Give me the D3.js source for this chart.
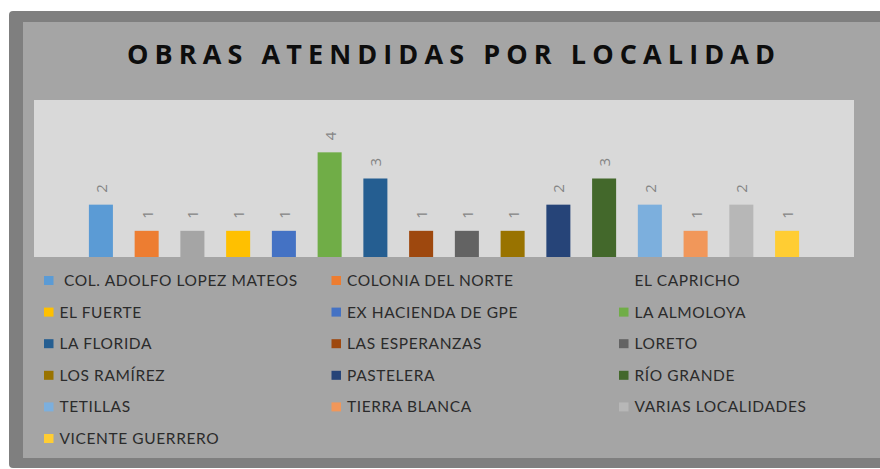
<!DOCTYPE html>
<html>
<head>
<meta charset="utf-8">
<script src="https://cdn.jsdelivr.net/npm/d3@7"></script>
<style>
  html, body { margin: 0; padding: 0; background: #ffffff; }
  svg { display: block; }
</style>
</head>
<body>
<svg id="chart" width="880" height="469"></svg>
<script>
const title = "OBRAS ATENDIDAS POR LOCALIDAD";
const categories = [
  " COL. ADOLFO LOPEZ MATEOS", "COLONIA DEL NORTE", "EL CAPRICHO",
  "EL FUERTE", "EX HACIENDA DE GPE", "LA ALMOLOYA",
  "LA FLORIDA", "LAS ESPERANZAS", "LORETO",
  "LOS RAMÍREZ", "PASTELERA", "RÍO GRANDE",
  "TETILLAS", "TIERRA BLANCA", "VARIAS LOCALIDADES",
  "VICENTE GUERRERO"
];
const values = [2, 1, 1, 1, 1, 4, 3, 1, 1, 1, 2, 3, 2, 1, 2, 1];
const colors = [
  "#5b9bd5", "#ed7d31", "#a5a5a5", "#ffc000", "#4472c4", "#70ad47",
  "#255e91", "#9e480e", "#636363", "#997300", "#264478", "#43682b",
  "#7cafdd", "#f1975a", "#b7b7b7", "#ffcd33"
];

const svg = d3.select("#chart");

// Frame
svg.append("rect").attr("x", 9).attr("y", 11).attr("width", 880).attr("height", 457)
  .attr("rx", 4).attr("fill", "#7f7f7f");
svg.append("rect").attr("x", 23).attr("y", 22).attr("width", 870).attr("height", 436)
  .attr("fill", "#a5a5a5");

// Title
svg.append("text")
  .attr("x", 127).attr("y", 64)
  .attr("textLength", 648).attr("lengthAdjust", "spacing")
  .attr("font-family", "'Open Sans', sans-serif")
  .attr("font-weight", "bold").attr("font-size", 27)
  .attr("fill", "#0d0d0d")
  .text(title);

// Plot area
const plot = { left: 34, top: 100, right: 854, bottom: 257 };
svg.append("rect")
  .attr("x", plot.left).attr("y", plot.top)
  .attr("width", plot.right - plot.left).attr("height", plot.bottom - plot.top)
  .attr("fill", "#d9d9d9");

const x = d3.scaleBand()
  .domain(d3.range(categories.length))
  .range([plot.left, plot.right])
  .paddingInner(0.475).paddingOuter(1.2);
const y = d3.scaleLinear().domain([0, 6]).range([plot.bottom, plot.top]);

svg.append("g").selectAll("rect")
  .data(values)
  .join("rect")
  .attr("x", (d, i) => x(i))
  .attr("y", d => y(d))
  .attr("width", x.bandwidth())
  .attr("height", d => y(0) - y(d))
  .attr("fill", (d, i) => colors[i]);

svg.append("g").selectAll("text")
  .data(values)
  .join("text")
  .attr("transform", (d, i) => `translate(${x(i) + x.bandwidth() / 2},${y(d) - 12}) rotate(-90)`)
  .attr("text-anchor", "start")
  .attr("dominant-baseline", "central")
  .attr("font-family", "'Open Sans', sans-serif")
  .attr("font-size", 15)
  .attr("fill", "#858585")
  .text(d => d);

// Legend
const colX = [44, 331.5, 619];
const textX = [59.5, 347, 634.5];
const rowY0 = 286, rowStep = 31.6;
const leg = svg.append("g").selectAll("g")
  .data(categories)
  .join("g");
leg.append("rect")
  .attr("x", (d, i) => colX[i % 3])
  .attr("y", (d, i) => rowY0 + Math.floor(i / 3) * rowStep - 10)
  .attr("width", 9.5).attr("height", 9)
  .attr("fill", (d, i) => colors[i]);
leg.append("text")
  .attr("x", (d, i) => textX[i % 3])
  .attr("y", (d, i) => rowY0 + Math.floor(i / 3) * rowStep)
  .attr("font-family", "Lato, sans-serif")
  .attr("font-size", 15.5)
  .attr("letter-spacing", 0.6)
  .attr("fill", "#2b2b2b")
  .style("white-space", "pre")
  .text(d => d);
</script>
</body>
</html>
